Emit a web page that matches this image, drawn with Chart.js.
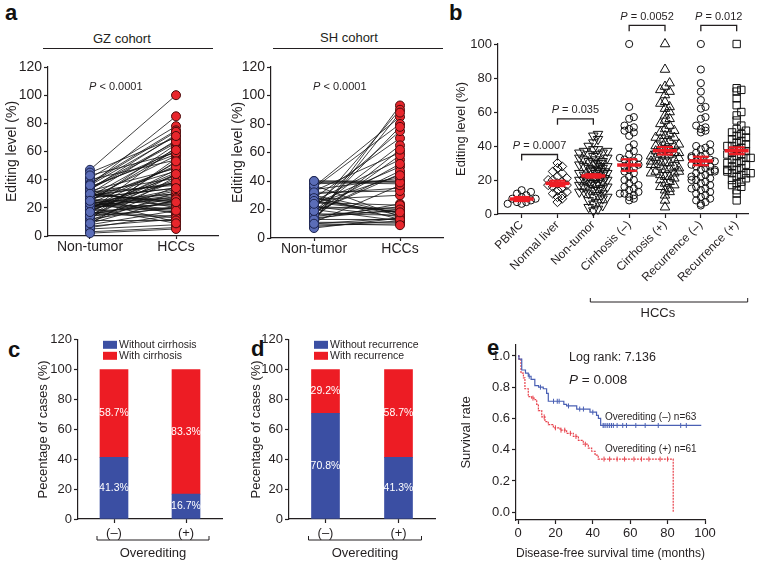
<!DOCTYPE html>
<html>
<head>
<meta charset="utf-8">
<script src="https://cdn.jsdelivr.net/npm/chart.js@4.4.1/dist/chart.umd.min.js"></script>
<style>
body { margin: 0; background: #fff; font-family: "Liberation Sans", Arial, sans-serif; }
#fig { position: relative; width: 764px; height: 565px; overflow: hidden; background: #fff; }
#fig canvas { position: absolute; }
.lab { position: absolute; font-weight: bold; font-size: 22px; line-height: 22px; color: #111; }
.coh { position: absolute; font-size: 13px; line-height: 13px; color: #231f20; white-space: nowrap; }
.rule { position: absolute; height: 0; border-top: 1.5px solid #231f20; }
</style>
</head>
<body>
<div id="fig">
  <div class="lab" style="left:5px;top:2px">a</div>
  <div class="lab" style="left:449px;top:2px">b</div>
  <div class="lab" style="left:8px;top:339px">c</div>
  <div class="lab" style="left:251px;top:338px">d</div>
  <div class="lab" style="left:487px;top:337px">e</div>
  <div class="coh" style="left:93px;top:32px">GZ cohort</div>
  <div class="rule" style="left:43px;top:48px;width:170px"></div>
  <div class="coh" style="left:320px;top:31px">SH cohort</div>
  <div class="rule" style="left:273px;top:48px;width:170px"></div>

  <canvas id="gz" width="226" height="262" style="left:0;top:0"></canvas>
  <canvas id="sh" width="224" height="262" style="left:226px;top:0"></canvas>
  <canvas id="grp" width="314" height="330" style="left:450px;top:0"></canvas>
  <canvas id="cir" width="208" height="235" style="left:32px;top:330px"></canvas>
  <canvas id="rec" width="200" height="235" style="left:245px;top:330px"></canvas>
  <canvas id="km" width="309" height="235" style="left:455px;top:330px"></canvas>
</div>
<script>
const FONT = '"Liberation Sans", Arial, Helvetica, sans-serif';
const INK = '#231f20';
const BLUE = '#3b4fa3';
const RED = '#ed1c24';

// panel a : paired editing levels
const pairLabels = ['Non-tumor', 'HCCs'];
const gzNonTumor = [12, 47, 25, 33, 8, 19, 28, 36, 15, 22,
    30, 5, 18, 41, 26, 11, 23, 34, 17, 29,
    9, 38, 21, 14, 27, 32, 20, 7, 24, 45,
    16, 31, 13, 26, 19, 35, 22, 10, 28, 3,
    24, 18, 30, 15, 21, 40, 27, 12, 33, 25,
    6, 20, 29, 17, 23, 37, 14, 31, 22, 19,
    26, 43, 16, 24, 11, 28, 21, 34, 18, 2,
    32, 14, 20, 27, 9, 36, 23, 17, 30, 25];
const gzHcc = [55, 100, 30, 72, 18, 45, 62, 85, 27, 38,
    68, 8, 40, 78, 22, 35, 50, 60, 14, 25,
    42, 75, 33, 20, 57, 48, 28, 12, 65, 70,
    24, 36, 44, 16, 52, 58, 26, 31, 46, 6,
    19, 63, 23, 39, 29, 54, 34, 21, 66, 10,
    15, 43, 37, 47, 30, 74, 25, 41, 17, 32,
    49, 59, 13, 27, 11, 38, 22, 67, 20, 5,
    20, 53, 9, 34, 26, 71, 18, 44, 24, 61];
const shNonTumor = [40, 12, 25, 33, 8, 18, 36, 22, 15, 28,
    10, 38, 20, 31, 14, 26, 11, 35, 17, 24,
    13, 29, 19, 39, 16, 23, 9, 34, 21, 27,
    12, 37, 15, 30, 18, 25, 7, 32, 20, 14,
    22, 11, 28, 16, 40, 13, 19, 26, 10, 24];
const shHcc = [40, 93, 18, 60, 12, 45, 85, 15, 22, 70,
    14, 40, 90, 35, 20, 55, 11, 80, 16, 50,
    24, 13, 65, 38, 19, 75, 10, 42, 21, 30,
    88, 15, 58, 17, 47, 23, 14, 33, 12, 62,
    20, 37, 16, 78, 39, 13, 52, 18, 9, 44];

// panel b : editing level by group
const bGroups = ['PBMC', 'Normal liver', 'Non-tumor', 'Cirrhosis (–)', 'Cirrhosis (+)', 'Recurrence (–)', 'Recurrence (+)'];
const bPbmc = [6, 7, 7, 8, 9, 9, 10, 11, 12, 13, 14, 6];
const bNormal = [7, 9, 10, 11, 12, 13, 14, 15, 16, 17, 18, 19, 20, 21, 22, 24, 25, 27, 28, 30, 17, 20];
const bNonTumor = [2, 3, 4, 5, 6, 7, 8, 9, 10, 11, 12, 12, 13, 14, 14, 15, 15, 16, 16, 17,
    17, 18, 18, 19, 19, 20, 20, 20, 21, 21, 22, 22, 22, 23, 23, 24, 24, 24, 25, 25,
    26, 26, 27, 27, 28, 28, 29, 29, 30, 30, 31, 31, 32, 33, 33, 34, 35, 35, 36, 37,
    37, 38, 38, 40, 42, 44, 46, 47, 10, 13, 18, 21, 25, 28, 32, 36, 15, 20, 26, 30];
const bCirrNeg = [8, 9, 10, 11, 12, 13, 14, 15, 16, 18, 20, 22, 24, 26, 27, 28, 29, 30, 31, 32,
    33, 33, 35, 37, 39, 41, 46, 48, 49, 50, 51, 52, 56, 57, 63, 100, 20, 25, 12, 17];
const bCirrPos = [4, 8, 11, 13, 14, 15, 16, 17, 18, 19, 20, 21, 22, 22, 23, 24, 25, 25, 26, 27,
    28, 28, 29, 30, 30, 31, 32, 33, 33, 34, 35, 35, 36, 37, 38, 38, 39, 40, 40, 41,
    42, 43, 44, 45, 46, 47, 48, 49, 50, 52, 53, 55, 56, 58, 60, 62, 63, 65, 66, 70,
    72, 73, 75, 77, 85, 100, 27, 31, 36, 24, 29, 34, 45];
const bRecNeg = [5, 6, 7, 8, 9, 10, 11, 12, 13, 14, 15, 16, 17, 18, 19, 20, 21, 22, 23, 24,
    25, 26, 27, 28, 28, 29, 30, 30, 31, 32, 33, 34, 35, 36, 37, 38, 39, 40, 41, 48,
    49, 50, 51, 52, 56, 57, 62, 63, 67, 72, 77, 85, 100, 22, 26, 31, 34, 25, 20, 15];
const bRecPos = [8, 12, 14, 16, 17, 18, 19, 20, 21, 22, 23, 24, 24, 25, 26, 27, 28, 29, 30, 31,
    32, 33, 34, 35, 36, 37, 38, 39, 40, 41, 42, 43, 44, 45, 46, 47, 48, 49, 50, 52,
    55, 58, 60, 64, 68, 72, 73, 74, 100, 26, 30, 35, 40, 24, 33];
const bMean = [8.8, 18, 22.4, 28.8, 37.2, 31.2, 37.2];
const bSem = [1.2, 1.6, 1.0, 3.4, 2.2, 2.5, 2.0];
const bPvalues = [
    {from: 0, to: 1, y: 35, p: '0.0007'},
    {from: 1, to: 2, y: 56, p: '0.035'},
    {from: 3, to: 4, y: 111, p: '0.0052'},
    {from: 5, to: 6, y: 111, p: '0.012'}
];

// panels c, d : stacked percentages
const overLabels = ['(–)', '(+)'];
const noCirrhosis = [41.3, 16.7];
const withCirrhosis = [58.7, 83.3];
const noRecurrence = [70.8, 41.3];
const withRecurrence = [29.2, 58.7];

// panel e : disease-free survival
const kmNegTime = [0, 0.5, 2, 4, 5.5, 7, 9, 11, 13.5, 15.3, 16.2, 24.5, 26, 31.4, 38.5, 42, 43, 44.2, 98];
const kmNegSurv = [1.0, 0.98, 0.91, 0.89, 0.87, 0.85, 0.81, 0.80, 0.79, 0.76, 0.71, 0.69, 0.68, 0.66, 0.64, 0.62, 0.60, 0.555, 0.555];
const kmPosTime = [0, 0.5, 1.6, 2.9, 3.7, 5.5, 7.3, 9.1, 10, 10.9, 12.7, 14.4, 16.2, 18.9, 22.5, 26, 29.6, 32.3, 34.9, 37.6, 39.4, 41.2, 42.9, 83, 83];
const kmPosSurv = [1.0, 0.98, 0.89, 0.86, 0.79, 0.74, 0.73, 0.72, 0.69, 0.65, 0.61, 0.58, 0.56, 0.54, 0.525, 0.505, 0.485, 0.46, 0.435, 0.41, 0.39, 0.365, 0.34, 0.34, 0];
const negCensor = [6, 12, 19, 21, 22, 27, 33, 35, 40, 45.5, 46, 47, 48, 49, 50, 51, 53, 56, 58, 63, 68, 75, 87, 90];
const posCensor = [8, 14, 20, 23, 25, 28, 31, 36, 46, 49, 53, 57, 62, 66, 70, 76, 80];
const kmTicksX = [0, 20, 40, 60, 80, 100];
const kmTicksY = [0, 0.2, 0.4, 0.6, 0.8, 1.0];

Chart.defaults.font.family = FONT;
Chart.defaults.font.size = 13;
Chart.defaults.color = INK;
Chart.defaults.animation = false;
Chart.defaults.plugins.legend.display = false;
Chart.defaults.plugins.tooltip.enabled = false;

function axisStyle(opts)
{
    let a = {
        border: {color: INK, width: 1.2},
        grid: {drawOnChartArea: false, drawTicks: true, tickLength: 4, tickWidth: 1.2, color: INK, tickColor: INK},
        ticks: {color: INK, padding: 2, autoSkip: false, maxRotation: 0, minRotation: 0}
    };
    for (let k in opts) {
        if (a[k] && typeof opts[k] === 'object') a[k] = Object.assign(a[k], opts[k]);
        else a[k] = opts[k];
    }
    return a;
}

// text with an italic leading P
function pText(ctx, x, y, rest, size, align)
{
    ctx.save();
    ctx.font = `italic ${size}px ${FONT}`;
    let w1 = ctx.measureText('P').width;
    ctx.font = `${size}px ${FONT}`;
    let w2 = ctx.measureText(rest).width;
    let x0 = align === 'left' ? x : x - (w1 + w2) / 2;
    ctx.textBaseline = 'middle';
    ctx.textAlign = 'left';
    ctx.fillStyle = INK;
    ctx.font = `italic ${size}px ${FONT}`;
    ctx.fillText('P', x0, y);
    ctx.font = `${size}px ${FONT}`;
    ctx.fillText(rest, x0 + w1, y);
    ctx.restore();
}

function plainText(ctx, x, y, text, size, align, color)
{
    ctx.save();
    ctx.font = `${size}px ${FONT}`;
    ctx.textBaseline = 'middle';
    ctx.textAlign = align || 'center';
    ctx.fillStyle = color || INK;
    ctx.fillText(text, x, y);
    ctx.restore();
}

function pairedChart(id, nonTumor, hcc, yWidth, padRight, xHeight, xMin, xMax)
{
    let datasets = [];
    datasets.push({data: nonTumor.map(v => ({x: 0, y: v})), backgroundColor: '#5b6db8', borderColor: '#1d2550',
        borderWidth: 1, pointRadius: 4.5, order: 0, clip: false});
    datasets.push({data: hcc.map(v => ({x: 1, y: v})), backgroundColor: '#e8262c', borderColor: '#4a0c0c',
        borderWidth: 1, pointRadius: 4.5, order: 0, clip: false});
    for (let i = 0; i < nonTumor.length; i++) {
        datasets.push({data: [{x: 0, y: nonTumor[i]}, {x: 1, y: hcc[i]}], showLine: true,
            borderColor: '#111', borderWidth: 0.8, pointRadius: 0, order: 1});
    }
    let note = {
        id: 'pnote',
        afterDraw(chart) {
            pText(chart.ctx, chart.scales.x.getPixelForValue(0.3), chart.scales.y.getPixelForValue(106), ' < 0.0001', 11);
        }
    };
    new Chart(document.getElementById(id), {
        type: 'scatter',
        data: {datasets: datasets},
        options: {
            responsive: false,
            layout: {padding: {top: 67, right: padRight, left: 0, bottom: 0}},
            scales: {
                x: axisStyle({
                    type: 'linear', min: xMin, max: xMax,
                    afterBuildTicks: s => { s.ticks = pairLabels.map((l, i) => ({value: i})); },
                    ticks: {callback: v => pairLabels[v], font: {size: 14}, padding: 0},
                    grid: {tickLength: 3},
                    afterFit: s => { s.height = xHeight; }
                }),
                y: axisStyle({
                    min: 0, max: 120,
                    ticks: {stepSize: 20, font: {size: 14}},
                    title: {display: true, text: 'Editing level (%)', font: {size: 14}, padding: {top: 4, bottom: 0}},
                    afterFit: s => { s.width = yWidth; }
                })
            }
        },
        plugins: [note]
    });
}

pairedChart('gz', gzNonTumor, gzHcc, 48, 8, 26, -0.488, 1.488);
pairedChart('sh', shNonTumor, shHcc, 45, 7, 24, -0.5, 1.5);

// panel b
function swarm(vals, gi)
{
    let used = {};
    return vals.map(v => {
        let bin = Math.round(v / 4);
        let k = used[bin] || 0;
        used[bin] = k + 1;
        let slot = k % 7;
        let off = Math.ceil(slot / 2) * 0.13 * (slot % 2 ? 1 : -1);
        if (k >= 7) off += 0.065;
        return {x: gi + off, y: v};
    });
}

let bValues = [bPbmc, bNormal, bNonTumor, bCirrNeg, bCirrPos, bRecNeg, bRecPos];
let bMarker = [['circle', 0, 3.6], ['rectRot', 0, 4.6], ['triangle', 180, 5.5], ['circle', 0, 3.6],
    ['triangle', 0, 5.5], ['circle', 0, 3.6], ['rect', 0, 5.2]];
let bSets = [];
bSets.push({data: bMean.map((m, i) => ({x: i, y: m})), pointStyle: 'line', pointRadius: 12,
    borderColor: '#ee1d25', borderWidth: 3.5, order: 0, clip: false});
bSets.push({data: bMean.map((m, i) => ({x: i, y: m + bSem[i]})).concat(bMean.map((m, i) => ({x: i, y: m - bSem[i]}))),
    pointStyle: 'line', pointRadius: 8, borderColor: '#ee1d25', borderWidth: 2.2, order: 0, clip: false});
let bars = [];
bMean.forEach((m, i) => { bars.push({x: i, y: m - bSem[i]}, {x: i, y: m + bSem[i]}, {x: i, y: null}); });
bSets.push({data: bars, showLine: true, spanGaps: false, pointRadius: 0, borderColor: '#ee1d25', borderWidth: 2, order: 0});
bValues.forEach((vals, i) => {
    bSets.push({data: swarm(vals, i), pointStyle: bMarker[i][0], pointRotation: bMarker[i][1], pointRadius: bMarker[i][2],
        backgroundColor: 'rgba(0,0,0,0)', borderColor: '#111', borderWidth: 1, order: 2, clip: false});
});

let bNotes = {
    id: 'bnotes',
    afterDraw(chart) {
        let ctx = chart.ctx, x = chart.scales.x, y = chart.scales.y;
        ctx.save();
        ctx.strokeStyle = INK;
        ctx.lineWidth = 1.3;
        bPvalues.forEach(b => {
            let x0 = x.getPixelForValue(b.from), x1 = x.getPixelForValue(b.to);
            let yt = y.getPixelForValue(b.y);
            ctx.beginPath();
            ctx.moveTo(x0, yt + 6); ctx.lineTo(x0, yt); ctx.lineTo(x1, yt); ctx.lineTo(x1, yt + 6);
            ctx.stroke();
            pText(ctx, (x0 + x1) / 2, yt - 8.5, ' = ' + b.p, 11);
        });
        let yb = chart.chartArea.bottom + 88;
        let xl = x.getPixelForValue(2) - 3, xr = x.getPixelForValue(6) + 11;
        ctx.lineWidth = 1;
        ctx.beginPath();
        ctx.moveTo(xl, yb - 4); ctx.lineTo(xl, yb); ctx.lineTo(xr, yb); ctx.lineTo(xr, yb - 4);
        ctx.stroke();
        ctx.restore();
        plainText(ctx, x.getPixelForValue(3.8), yb + 11, 'HCCs', 13);
    }
};

new Chart(document.getElementById('grp'), {
    type: 'scatter',
    data: {datasets: bSets},
    options: {
        responsive: false,
        layout: {padding: {top: 44, right: 12, left: 0, bottom: 0}},
        scales: {
            x: axisStyle({
                type: 'linear', min: -0.66, max: 6.33,
                afterBuildTicks: s => { s.ticks = bGroups.map((g, i) => ({value: i})); },
                ticks: {callback: v => bGroups[v], font: {size: 12}, padding: 0, minRotation: 45, maxRotation: 45},
                afterFit: s => { s.height = 116; }
            }),
            y: axisStyle({
                min: 0, max: 100,
                ticks: {stepSize: 20},
                title: {display: true, text: 'Editing level (%)', font: {size: 13}, padding: {top: 4, bottom: 0}},
                afterFit: s => { s.width = 48; }
            })
        }
    },
    plugins: [bNotes]
});

// panels c and d
function stackChart(id, first, second, names, yWidth, padRight)
{
    let notes = {
        id: 'snotes',
        afterDraw(chart) {
            let ctx = chart.ctx, area = chart.chartArea, x = chart.scales.x;
            // legend
            chart.data.datasets.forEach((ds, i) => {
                let ly = area.top + 5 + i * 11;
                ctx.fillStyle = ds.backgroundColor;
                ctx.fillRect(area.left + 25, ly - 4, 14, 8);
                plainText(ctx, area.left + 41, ly, ds.label, 10.5, 'left');
            });
            // values inside the bars
            chart.data.datasets.forEach((ds, i) => {
                chart.getDatasetMeta(i).data.forEach((el, j) => {
                    plainText(ctx, el.x, (el.y + el.base) / 2, ds.data[j] + '%', 10.5, 'center', '#fff');
                });
            });
            // Overediting bracket
            let yb = area.bottom + 21;
            let xl = x.getPixelForValue(0) - 17, xr = x.getPixelForValue(1) + 23;
            ctx.save();
            ctx.strokeStyle = INK;
            ctx.lineWidth = 1;
            ctx.beginPath();
            ctx.moveTo(xl, yb - 4); ctx.lineTo(xl, yb); ctx.lineTo(xr, yb); ctx.lineTo(xr, yb - 4);
            ctx.stroke();
            ctx.restore();
            plainText(ctx, (xl + xr) / 2, yb + 13, 'Overediting', 13);
        }
    };
    new Chart(document.getElementById(id), {
        type: 'bar',
        data: {
            labels: overLabels,
            datasets: [
                {label: names[0], data: first, backgroundColor: BLUE, barThickness: 28},
                {label: names[1], data: second, backgroundColor: RED, barThickness: 28}
            ]
        },
        options: {
            responsive: false,
            layout: {padding: {top: 8, right: padRight, left: 0, bottom: 0}},
            scales: {
                x: axisStyle({stacked: true, grid: {offset: false}, ticks: {padding: 3}, afterFit: s => { s.height = 46; }}),
                y: axisStyle({
                    stacked: true, min: 0, max: 120,
                    ticks: {stepSize: 20},
                    title: {display: true, text: 'Pecentage of cases (%)', font: {size: 13}, padding: {top: 4, bottom: 0}},
                    afterFit: s => { s.width = yWidth; }
                })
            }
        },
        plugins: [notes]
    });
}

stackChart('cir', noCirrhosis, withCirrhosis, ['Without cirrhosis', 'With cirrhosis'], 46, 18);
stackChart('rec', noRecurrence, withRecurrence, ['Without recurrence', 'With recurrence'], 44, 10);

// panel e
function survAt(times, surv, t)
{
    let s = surv[0];
    for (let i = 0; i < times.length; i++) if (times[i] <= t) s = surv[i];
    return s;
}

let kmNotes = {
    id: 'kmnotes',
    afterDraw(chart) {
        let ctx = chart.ctx, x = chart.scales.x, y = chart.scales.y;
        plainText(ctx, x.getPixelForValue(27.3), y.getPixelForValue(0.987), 'Log rank: 7.136', 12.5, 'left');
        pText(ctx, x.getPixelForValue(27.3), y.getPixelForValue(0.846), ' = 0.008', 13.5, 'left');
        plainText(ctx, x.getPixelForValue(46.5), y.getPixelForValue(0.61), 'Overediting (–) n=63', 10, 'left');
        plainText(ctx, x.getPixelForValue(46.5), y.getPixelForValue(0.40), 'Overediting (+) n=61', 10, 'left');
    }
};

new Chart(document.getElementById('km'), {
    type: 'scatter',
    data: {
        datasets: [
            {data: kmNegTime.map((t, i) => ({x: t, y: kmNegSurv[i]})), showLine: true, stepped: true,
                borderColor: '#4a60b4', borderWidth: 1.2, pointRadius: 0},
            {data: kmPosTime.map((t, i) => ({x: t, y: kmPosSurv[i]})), showLine: true, stepped: true,
                borderColor: '#e8424c', borderWidth: 1.2, borderDash: [2, 1], pointRadius: 0},
            {data: negCensor.map(t => ({x: t, y: survAt(kmNegTime, kmNegSurv, t)})), pointStyle: 'line', pointRotation: 90,
                pointRadius: 2.5, borderColor: '#4a60b4', borderWidth: 1},
            {data: posCensor.map(t => ({x: t, y: survAt(kmPosTime, kmPosSurv, t)})), pointStyle: 'line', pointRotation: 90,
                pointRadius: 2.5, borderColor: '#e8424c', borderWidth: 1}
        ]
    },
    options: {
        responsive: false,
        layout: {padding: {top: 15, right: 59, left: 0, bottom: 0}},
        scales: {
            x: axisStyle({
                type: 'linear', min: -1.07, max: 100,
                afterBuildTicks: s => { s.ticks = kmTicksX.map(v => ({value: v})); },
                title: {display: true, text: 'Disease-free survival time (months)', font: {size: 13}, padding: {top: 2, bottom: 4}},
                afterFit: s => { s.height = 45; }
            }),
            y: axisStyle({
                min: -0.05, max: 1.07,
                afterBuildTicks: s => { s.ticks = kmTicksY.map(v => ({value: v})); },
                ticks: {callback: v => v.toFixed(1)},
                title: {display: true, text: 'Survival rate', font: {size: 13}, padding: {top: 4, bottom: 0}},
                afterFit: s => { s.width = 61; }
            })
        }
    },
    plugins: [kmNotes]
});
</script>
</body>
</html>
